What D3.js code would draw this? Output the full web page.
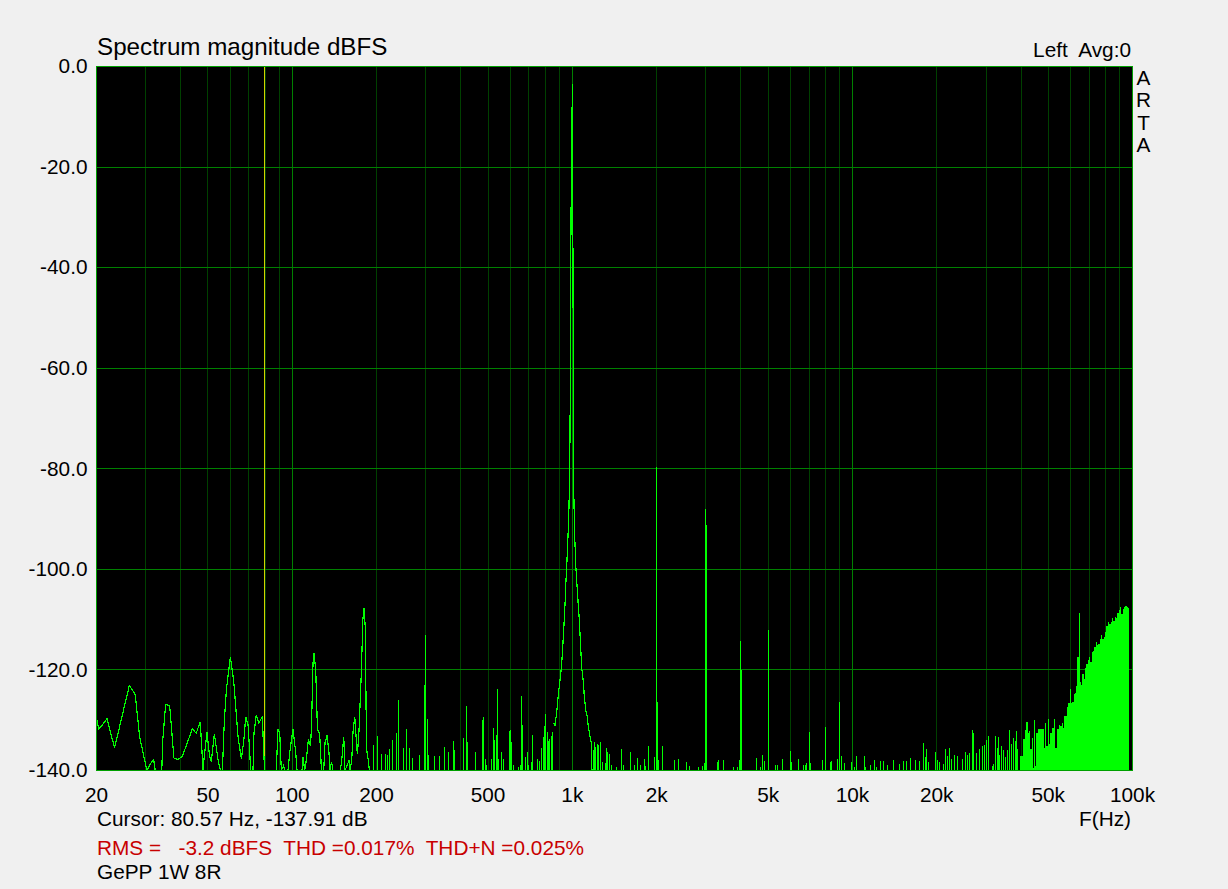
<!DOCTYPE html>
<html><head><meta charset="utf-8">
<script src="https://cdn.jsdelivr.net/npm/d3@7"></script>
<style>
html,body{margin:0;padding:0;background:#f0f0f0;}
svg{display:block;font-family:"Liberation Sans",Arial,sans-serif;}
</style></head><body>
<svg id="chart" width="1228" height="889"></svg>
<script>
// ---- data ----
// low-frequency trace (continuous line), Hz / dBFS
const lowFreq = [20.0,20.4,21.8,23.2,26.2,27.5,28.5,30.25,31.4,32.0,32.4,34.2,34.5,35.3,36.5,37.8,39.0,40.5,43.0,44.0,45.4,46.9,47.5,48.0,48.5,49.6,50.7,51.4,52.7,54.3,55.4,56.3,57.2,58.2,60.1,61.8,64.0,65.8,67.1,68.2,69.5,70.4,71.0,72.4,73.0,74.4,76.0,78.2,79.0,79.7,87.7,88.9,90.2,91.4,93.2,93.9,96.5,97.9,100.6,102.9,104.0,108.3,109.2,110.8,112.3,114.2,116.1,117.1,118.6,119.6,121.3,123.0,125.3,127.1,129.5,130.9,133.1,135.3,136.1,138.3,139.5,148.6,150.6,152.7,154.3,159.5,161.0,163.1,164.8,167.2,169.5,170.9,173.2,176.4,178.7,180.2,182.3,183.2,184.2,186.3,188.5];
const lowDb = [-129.7,-131.8,-129.7,-135.5,-123.1,-124.9,-133.2,-140,-138.4,-137.8,-140,-140,-133.8,-126.9,-127.1,-137.5,-137.8,-137.2,-133.2,-131.7,-132.6,-130.3,-135.2,-140,-137.2,-132.4,-137.2,-138.3,-132.7,-137.8,-140,-140,-130.2,-123.9,-117.4,-122.2,-133.2,-137.7,-134.2,-129.3,-130.9,-135.8,-140,-140,-132.5,-128.9,-130.6,-129.2,-135.8,-140,-140,-131.8,-132.5,-140,-139,-140,-140,-136.5,-131.7,-136.5,-140,-140,-137.4,-140,-137.8,-133.7,-135.2,-131.5,-118.7,-116.6,-120.2,-131.8,-132.8,-140,-140,-134.5,-133,-136.5,-140,-138.3,-140,-140,-137.2,-133.3,-140,-138,-140,-137.8,-132.2,-129.3,-134.5,-136.8,-131.8,-120.6,-110,-107.6,-111.6,-124.2,-135.8,-137.5,-140];

// fundamental (1 kHz) contour
const peakFreq = [857.5,866.8,879.0,893.6,903.2,915.9,928.1,938.8,948.9,959.1,970.3,978.3,983.1,988.8,1000,1005.2,1009.3,1011.8,1019.4,1030.3,1044.9,1058.7,1067.5,1079.8,1094.1,1103.1,1115.9,1130.8,1140.1,1156.3,1168.7,1175];
const peakDb = [-130.5,-131,-128.5,-124.2,-122.2,-118.9,-113.6,-108.6,-102.3,-97,-90,-81.5,-65.6,-31,-3.5,-40,-70,-84.7,-93.4,-100,-105.3,-110,-114,-119.6,-122.2,-125.2,-127.9,-129.2,-131.2,-133.2,-134.5,-140];

// isolated bins (harmonics, hum, noise spikes)
const spikeFreq = [194.7,201.2,208.0,215.0,218.5,222.2,228.8,235.3,240.4,248.7,256.4,262.9,268.8,285.4,295.6,300.0,303.1,306.6,322.9,336.4,348.6,360.2,375.4,380.6,407.6,417.7,421.2,449.8,477.4,482.1,488.5,492.5,514.9,521.7,526.0,536.5,539.1,546.7,560.4,566.5,595.1,601.3,607.0,615.0,642.9,653.6,659.0,662.3,682.8,690.1,695.8,713.2,719.1,749.3,761.7,778.8,791.8,798.3,804.9,813.5,823.0,831.8,840.8,850.5,1188,1201.7,1214.6,1227.7,1241.9,1262.5,1276.1,1311.2,1322.0,1337.3,1362.8,1377.4,1440.1,1496.1,1521,1610.7,1670.3,1706,1744.4,1808,1828.5,1868,1962.4,2000,2007,2028.2,2096.2,2313.8,2390.5,2554,2617.7,2819,2913,2962,2990,3010,3296,3323,3462,3760,3886,3940,3990,4010,4544,4695,4774,4853,5000,5312,5401,5627,6010,6059,6419,6689,6783,6878,7027,7067,7820,8016,8380,8450,8848,9000,9175,9373,9961,10152,10346,11050,11177,11648,12036,12237,12573,12917,13350,14028,14740,15232,15662,16134,16812,17370,17958,18256,18406,18712,19820,20148,20484,21168,21414,21768,22238,22552,23116,23638,24747,25374,25794,26217,26877,27096,27705,28467,29034,29589,30156,30657,31527,31944,32475,32850,33285,33561,34119,34689,35259,35844,36440,36856,37472,38096,38504,38920];
const spikeDb = [-135,-133.2,-136.9,-136.9,-137,-135.8,-134,-132.6,-126.1,-135.6,-131.8,-135.6,-137.7,-137,-123.1,-113.2,-129.9,-137,-137.2,-137.2,-135.5,-136.5,-134.2,-136,-133.6,-127.3,-134.5,-136.5,-130,-129.5,-137.8,-139,-137.8,-131.7,-134,-133,-123.9,-137.8,-136.5,-137.8,-132.2,-132,-134.5,-139,-139.5,-139,-125.3,-131,-137.4,-136.4,-139,-138.5,-133,-137.8,-138.3,-135.6,-133.5,-131.2,-128.9,-132.5,-134.2,-133.8,-133.2,-132.4,-136,-134.5,-135.5,-134.8,-135,-134.5,-138.5,-138.7,-135.6,-136.4,-136.9,-139,-139.5,-135.8,-139,-136.5,-139,-137.6,-139,-137.8,-139.2,-135.2,-137.4,-79.8,-126.5,-138,-135.2,-138,-137.8,-138.5,-139.2,-139.5,-139.3,-138.7,-88.1,-91.3,-138.4,-138,-138,-139.5,-139.4,-138,-114.3,-120.2,-137.6,-139.5,-137,-138.3,-112.2,-139,-139,-137.8,-136.2,-138.5,-137.8,-139,-139,-138.7,-132.4,-138.7,-138,-131.4,-138.5,-138.3,-137.8,-126.4,-137.2,-138.6,-138.4,-139.5,-137.2,-137.2,-139.4,-139,-138,-139.4,-138.3,-138.3,-139.1,-138,-138.8,-138.3,-138.3,-137.6,-138,-138.2,-134.6,-137.5,-135.8,-138.4,-136.4,-138.1,-138.4,-138.9,-135.8,-137.3,-135.7,-137.8,-137.1,-137.2,-137.8,-136.4,-137.1,-136.6,-132,-132.6,-136.6,-135.8,-135.3,-135,-134,-133.3,-139.2,-138.9,-133.3,-135.7,-133.5,-137.1,-135.3,-136.1,-137.5,-136.1,-132,-134.8,-133.7,-134.2,-132.3,-135.8];

// dense ultrasonic noise (filled to the floor)
const hfFreq = [39792,40552,41228,41808,42256,42748,43204,43812,44035,44400,44765,45285,45885,46645,47420,48205,48765,49290,49820,50395,50940,51485,52340,52945,53825,54715,55300,55896,56550,57156,57768,58440,59070,59706,60396,61044,61704,62418,63090,63612,64290,64824,65568,66283,66997,67774,68502,69237,70012,70791,71554,72387,73164,73948,74808,75608,76424,77304,78136,78976,79960,80752,81624,82568,83456,84352,85329,86256,87174,88191,89136,90096,91143,92124,93114,94194,95202,96237,96900];
const hfDb = [-137.1,-133.8,-132,-130.4,-132.5,-132.2,-135.7,-133.5,-139.6,-130,-139.2,-132.5,-131.8,-131.8,-131.8,-135.5,-130.5,-135.2,-129.8,-134.8,-132.5,-131.5,-129.7,-135.5,-131.8,-131,-131.2,-130.5,-131.5,-129.1,-129.2,-127.3,-126.6,-123.7,-126.5,-126.3,-124.8,-124.5,-123.1,-117.4,-108.7,-122.4,-123,-120.8,-121.8,-119.7,-118.8,-118.1,-117.4,-118.4,-116.5,-116.3,-115.5,-114.5,-115.1,-114.8,-113.8,-113,-113.8,-113.5,-112.5,-111.2,-110.5,-110.8,-110.5,-109.7,-110.2,-109.5,-109.7,-108.7,-108,-107.4,-108.8,-107.8,-107.5,-107.3,-107.5,-107.7,-108.5];

const xTickValues = [20,50,100,200,500,1000,2000,5000,10000,20000,50000,100000];
const xTickLabels = ["20","50","100","200","500","1k","2k","5k","10k","20k","50k","100k"];
const yTickValues = [0,-20,-40,-60,-80,-100,-120,-140];
const yTickLabels = ["0.0","-20.0","-40.0","-60.0","-80.0","-100.0","-120.0","-140.0"];
const cursorFreq = 80.57;
const cursorDb = -137.91;
const titleText = "Spectrum magnitude dBFS";
const channelText = "Left  Avg:0";
const brandLetters = ["A","R","T","A"];
const xAxisName = "F(Hz)";
const statsText = "RMS =   -3.2 dBFS  THD =0.017%  THD+N =0.025%";
const captionText = "GePP 1W 8R";

// ---- drawing ----
const svg = d3.select("#chart");
const L = 96.5, R = 1132.5, T = 66.5, B = 770.5;
const xs = d3.scaleLog().domain([20, 100000]).range([L, R]);
const ys = d3.scaleLinear().domain([-140, 0]).range([B, T]);

svg.append("rect").attr("x", L).attr("y", T).attr("width", R - L).attr("height", B - T).attr("fill", "#000");

// vertical grid
const gridF = xs.ticks().filter(f => f > 20 && f < 100000);
svg.append("g").selectAll("line").data(gridF).join("line")
  .attr("x1", d => Math.floor(xs(d)) + 0.5).attr("x2", d => Math.floor(xs(d)) + 0.5)
  .attr("y1", T).attr("y2", B)
  .attr("stroke", d => (Math.abs(Math.log10(d) - Math.round(Math.log10(d))) < 1e-9) ? "#008000" : "#004000")
  .attr("stroke-width", 1).attr("shape-rendering", "crispEdges");
// horizontal grid
svg.append("g").selectAll("line").data(yTickValues.filter(v => v < 0 && v > -140)).join("line")
  .attr("x1", L).attr("x2", R)
  .attr("y1", d => Math.floor(ys(d)) + 0.5).attr("y2", d => Math.floor(ys(d)) + 0.5)
  .attr("stroke", "#008000").attr("stroke-width", 1).attr("shape-rendering", "crispEdges");

// cursor
svg.append("line")
  .attr("x1", Math.floor(xs(cursorFreq)) - 0.5).attr("x2", Math.floor(xs(cursorFreq)) - 0.5)
  .attr("y1", T).attr("y2", B).attr("stroke", "#d2d200").attr("stroke-width", 1)
  .attr("shape-rendering", "crispEdges");

const G = "#00ff00";
const plot = svg.append("g");
const clip = svg.append("clipPath").attr("id", "pc");
clip.append("rect").attr("x", L).attr("y", T).attr("width", R - L).attr("height", B - T + 0.5);
plot.attr("clip-path", "url(#pc)");

// spikes
const spikes = spikeFreq.map((f, i) => ({f, db: spikeDb[i]}));
plot.append("g").selectAll("rect").data(spikes).join("rect")
  .attr("x", d => Math.floor(xs(d.f))).attr("width", 1)
  .attr("y", d => Math.floor(ys(d.db)))
  .attr("height", d => B + 0.5 - Math.floor(ys(d.db)))
  .attr("fill", G).attr("shape-rendering", "crispEdges");

// dense ultrasonic area
const hf = hfFreq.map((f, i) => ({f, db: hfDb[i]}));
plot.append("path").datum(hf)
  .attr("d", d3.area().x(d => xs(d.f)).y0(B + 0.5).y1(d => ys(d.db)).curve(d3.curveStepAfter))
  .attr("fill", G).attr("shape-rendering", "crispEdges");

// line traces
const line = d3.line().x(d => xs(d.f)).y(d => ys(d.db));
const low = lowFreq.map((f, i) => ({f, db: lowDb[i]}));
const pk = peakFreq.map((f, i) => ({f, db: peakDb[i]}));
[low, pk].forEach(arr => {
  plot.append("path").datum(arr).attr("d", line)
    .attr("fill", "none").attr("stroke", G).attr("stroke-width", 1.2)
    .attr("shape-rendering", "crispEdges");
});

// frame
svg.append("rect").attr("x", L).attr("y", T).attr("width", R - L).attr("height", B - T)
  .attr("fill", "none").attr("stroke", "#00a000").attr("stroke-width", 1).attr("shape-rendering", "crispEdges");

// texts
const txt = (x, y, s, opts = {}) => svg.append("text").attr("x", x).attr("y", y)
  .attr("font-size", opts.size || 20.8).attr("fill", opts.fill || "#000")
  .attr("text-anchor", opts.anchor || "start").style("white-space", "pre").text(s);

txt(97, 55, titleText, {size: 24.2});
txt(1131, 56.5, channelText, {anchor: "end"});
brandLetters.forEach((c, i) => txt(1143.5, 85 + i * 22.3, c, {anchor: "middle"}));

yTickValues.forEach((v, i) => txt(87.5, ys(v) + 6.8, yTickLabels[i], {anchor: "end"}));
xTickValues.forEach((v, i) => txt(xs(v), 802, xTickLabels[i], {anchor: "middle"}));

txt(97, 825.5, `Cursor: ${cursorFreq} Hz, ${cursorDb} dB`);
txt(1131, 826, xAxisName, {anchor: "end"});
txt(97, 855, statsText, {fill: "#c80000"});
txt(97, 879, captionText);
</script>
</body></html>
